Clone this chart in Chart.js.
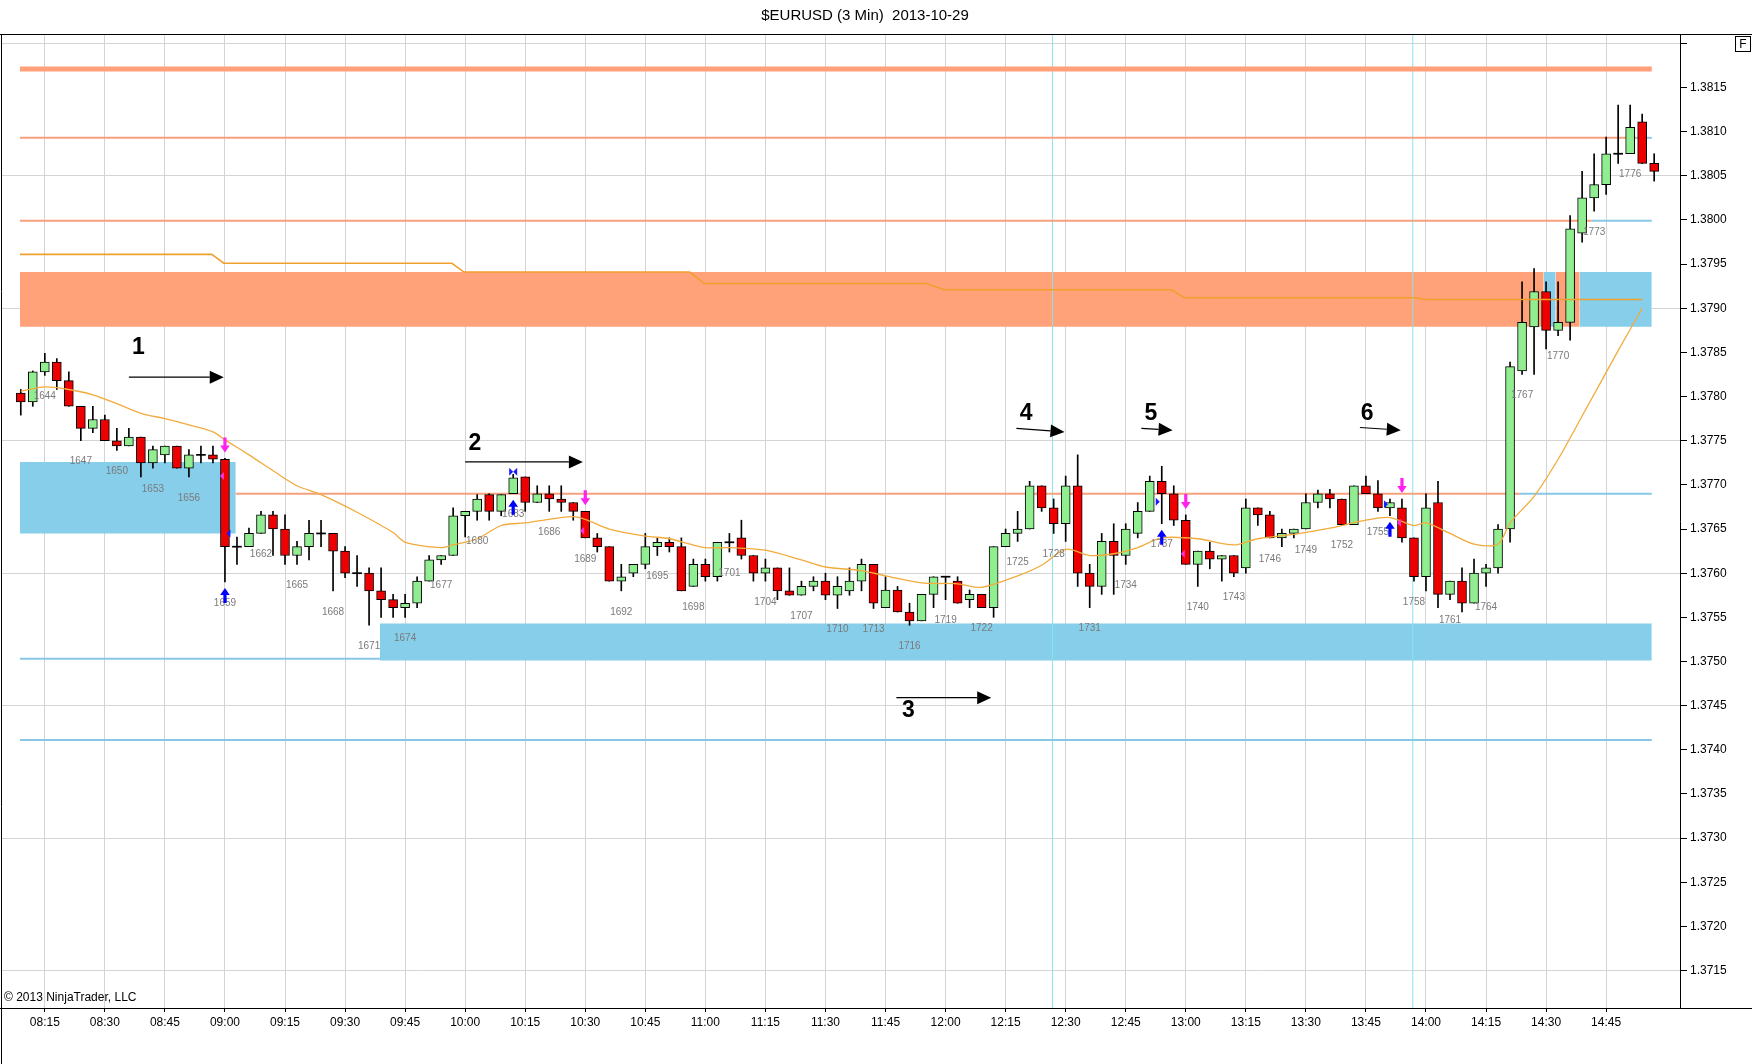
<!DOCTYPE html>
<html>
<head>
<meta charset="utf-8">
<title>$EURUSD (3 Min) 2013-10-29</title>
<script src="https://cdn.jsdelivr.net/npm/chart.js@4.4.1/dist/chart.umd.min.js"></script>
<style>
  html, body { margin: 0; padding: 0; background: #fff; }
</style>
</head>
<body>
<canvas id="chart" width="1752" height="1064"></canvas>
<script>
  "use strict";

  // bar index 0 = 08:15 (bar #1644), one bar = 3 minutes
  const firstBar = -2;
  const barNoStart = 1644;

  const opens = [
    1.37804, 1.37794, 1.37828, 1.37839, 1.37818, 1.37789, 1.37764, 1.37774, 1.37750, 1.37744,
    1.37754, 1.37725, 1.37734, 1.37744, 1.37719, 1.37734, 1.37734, 1.37729, 1.37630, 1.37630,
    1.37645, 1.37666, 1.37650, 1.37620, 1.37630, 1.37645, 1.37645, 1.37625, 1.37600, 1.37600,
    1.37580, 1.37570, 1.37561, 1.37566, 1.37591, 1.37615, 1.37620, 1.37665, 1.37670, 1.37689,
    1.37670, 1.37690, 1.37709, 1.37680, 1.37690, 1.37684, 1.37680, 1.37670, 1.37640, 1.37630,
    1.37591, 1.37600, 1.37610, 1.37630, 1.37635, 1.37630, 1.37585, 1.37610, 1.37596, 1.37635,
    1.37640, 1.37620, 1.37600, 1.37606, 1.37580, 1.37575, 1.37585, 1.37591, 1.37575, 1.37580,
    1.37591, 1.37610, 1.37561, 1.37581, 1.37556, 1.37546, 1.37576, 1.37596, 1.37591, 1.37570,
    1.37576, 1.37561, 1.37630, 1.37645, 1.37650, 1.37699, 1.37674, 1.37656, 1.37699, 1.37600,
    1.37585, 1.37636, 1.37620, 1.37645, 1.37670, 1.37704, 1.37690, 1.37660, 1.37610, 1.37625,
    1.37616, 1.37620, 1.37606, 1.37674, 1.37666, 1.37640, 1.37645, 1.37650, 1.37680, 1.37690,
    1.37684, 1.37655, 1.37699, 1.37690, 1.37674, 1.37674, 1.37640, 1.37596, 1.37680, 1.37576,
    1.37591, 1.37566, 1.37600, 1.37606, 1.37650, 1.37829, 1.37879, 1.37919, 1.37875, 1.37884,
    1.37985, 1.38025, 1.38040, 1.38075, 1.38075, 1.38111, 1.38064
  ];
  const highs = [
    1.37808, 1.37829, 1.37849, 1.37843, 1.37828, 1.37789, 1.37789, 1.37779, 1.37764, 1.37764,
    1.37754, 1.37744, 1.37744, 1.37744, 1.37740, 1.37744, 1.37744, 1.37730, 1.37641, 1.37651,
    1.37670, 1.37670, 1.37666, 1.37636, 1.37660, 1.37660, 1.37645, 1.37630, 1.37620, 1.37606,
    1.37606, 1.37576, 1.37576, 1.37596, 1.37620, 1.37620, 1.37674, 1.37670, 1.37689, 1.37690,
    1.37689, 1.37712, 1.37709, 1.37699, 1.37699, 1.37699, 1.37680, 1.37670, 1.37645, 1.37630,
    1.37610, 1.37610, 1.37645, 1.37640, 1.37640, 1.37640, 1.37616, 1.37616, 1.37635, 1.37645,
    1.37660, 1.37620, 1.37616, 1.37606, 1.37606, 1.37591, 1.37596, 1.37600, 1.37596, 1.37606,
    1.37616, 1.37610, 1.37596, 1.37585, 1.37566, 1.37576, 1.37596, 1.37596, 1.37596, 1.37581,
    1.37576, 1.37630, 1.37650, 1.37670, 1.37704, 1.37699, 1.37684, 1.37710, 1.37734, 1.37610,
    1.37645, 1.37656, 1.37656, 1.37680, 1.37710, 1.37721, 1.37699, 1.37666, 1.37625, 1.37635,
    1.37620, 1.37620, 1.37684, 1.37674, 1.37670, 1.37650, 1.37650, 1.37690, 1.37694, 1.37695,
    1.37684, 1.37699, 1.37710, 1.37705, 1.37684, 1.37684, 1.37640, 1.37690, 1.37704, 1.37591,
    1.37606, 1.37616, 1.37610, 1.37655, 1.37839, 1.37930, 1.37945, 1.37930, 1.37930, 1.38005,
    1.38055, 1.38075, 1.38094, 1.38130, 1.38130, 1.38120, 1.38075
  ];
  const lows = [
    1.37779, 1.37789, 1.37824, 1.37808, 1.37789, 1.37750, 1.37759, 1.37750, 1.37739, 1.37744,
    1.37709, 1.37719, 1.37725, 1.37719, 1.37709, 1.37725, 1.37725, 1.37590, 1.37610, 1.37630,
    1.37645, 1.37620, 1.37610, 1.37610, 1.37615, 1.37630, 1.37580, 1.37595, 1.37585, 1.37541,
    1.37550, 1.37550, 1.37550, 1.37561, 1.37591, 1.37610, 1.37620, 1.37641, 1.37660, 1.37660,
    1.37665, 1.37690, 1.37670, 1.37680, 1.37670, 1.37670, 1.37660, 1.37640, 1.37624, 1.37591,
    1.37580, 1.37596, 1.37605, 1.37620, 1.37624, 1.37580, 1.37585, 1.37591, 1.37591, 1.37624,
    1.37616, 1.37591, 1.37591, 1.37570, 1.37575, 1.37575, 1.37580, 1.37570, 1.37560, 1.37575,
    1.37580, 1.37560, 1.37561, 1.37556, 1.37541, 1.37546, 1.37561, 1.37570, 1.37566, 1.37561,
    1.37561, 1.37550, 1.37630, 1.37636, 1.37650, 1.37670, 1.37645, 1.37636, 1.37585, 1.37561,
    1.37576, 1.37576, 1.37610, 1.37640, 1.37670, 1.37656, 1.37654, 1.37610, 1.37585, 1.37605,
    1.37591, 1.37596, 1.37600, 1.37654, 1.37640, 1.37630, 1.37640, 1.37650, 1.37674, 1.37674,
    1.37655, 1.37655, 1.37690, 1.37670, 1.37665, 1.37635, 1.37591, 1.37580, 1.37561, 1.37570,
    1.37556, 1.37566, 1.37585, 1.37600, 1.37635, 1.37825, 1.37825, 1.37854, 1.37869, 1.37864,
    1.37975, 1.38010, 1.38029, 1.38064, 1.38075, 1.38064, 1.38044
  ];
  const closes = [
    1.37794, 1.37828, 1.37839, 1.37818, 1.37789, 1.37764, 1.37774, 1.37750, 1.37744, 1.37754,
    1.37725, 1.37740, 1.37744, 1.37719, 1.37734, 1.37734, 1.37729, 1.37630, 1.37630, 1.37645,
    1.37666, 1.37650, 1.37620, 1.37630, 1.37645, 1.37645, 1.37625, 1.37600, 1.37600, 1.37580,
    1.37570, 1.37561, 1.37566, 1.37591, 1.37615, 1.37620, 1.37665, 1.37670, 1.37684, 1.37670,
    1.37689, 1.37708, 1.37680, 1.37690, 1.37684, 1.37680, 1.37670, 1.37640, 1.37630, 1.37591,
    1.37596, 1.37610, 1.37630, 1.37635, 1.37630, 1.37580, 1.37610, 1.37596, 1.37635, 1.37635,
    1.37620, 1.37600, 1.37606, 1.37580, 1.37575, 1.37585, 1.37591, 1.37575, 1.37585, 1.37591,
    1.37610, 1.37566, 1.37581, 1.37556, 1.37546, 1.37576, 1.37596, 1.37596, 1.37566, 1.37576,
    1.37561, 1.37630, 1.37645, 1.37650, 1.37699, 1.37674, 1.37656, 1.37699, 1.37600, 1.37585,
    1.37636, 1.37620, 1.37650, 1.37670, 1.37704, 1.37690, 1.37660, 1.37610, 1.37625, 1.37616,
    1.37620, 1.37600, 1.37674, 1.37666, 1.37640, 1.37645, 1.37650, 1.37680, 1.37690, 1.37684,
    1.37655, 1.37699, 1.37690, 1.37674, 1.37680, 1.37640, 1.37596, 1.37674, 1.37576, 1.37591,
    1.37566, 1.37600, 1.37606, 1.37650, 1.37834, 1.37884, 1.37919, 1.37875, 1.37884, 1.37990,
    1.38025, 1.38040, 1.38075, 1.38075, 1.38105, 1.38064, 1.38055
  ];

  // moving average (thin gold line), read at these bar indexes
  const maX = [-2, 0, 2, 4, 6, 8, 10, 12, 14, 15, 17, 19, 21, 23, 26, 29, 30, 33, 34, 36,
    38, 40, 43, 44, 45, 47, 50, 52, 55, 57, 60, 63, 65, 68, 70, 73, 76, 78, 81, 83,
    85, 87, 89, 91, 93, 96, 99, 101, 104, 107, 110, 112, 114, 115, 117, 119, 121, 122, 124, 126,
    128, 131, 133];
  const maY = [1.37806, 1.37811, 1.37808, 1.37802, 1.37792, 1.37781, 1.37775, 1.37768, 1.37760, 1.37751,
    1.37734, 1.37716, 1.37699, 1.37689, 1.37669, 1.37646, 1.37635, 1.37629, 1.37632, 1.37639,
    1.37654, 1.37657, 1.37663, 1.37664, 1.37661, 1.37650, 1.37642, 1.37639, 1.37629, 1.37629,
    1.37626, 1.37615, 1.37607, 1.37603, 1.37597, 1.37589, 1.37588, 1.37584, 1.37597, 1.37609,
    1.37627, 1.37620, 1.37622, 1.37629, 1.37640, 1.37639, 1.37632, 1.37639, 1.37644, 1.37651,
    1.37660, 1.37663, 1.37654, 1.37657, 1.37645, 1.37633, 1.37633, 1.37657, 1.37687, 1.37729,
    1.37778, 1.37852, 1.37900];

  // stepped orange line
  const stepX = [-2.07, 13.9, 14.9, 33.9, 34.9, 53.7, 54.9, 73.4, 74.9, 93.8, 94.9, 114, 115, 133];
  const stepY = [1.37961, 1.37961, 1.37951, 1.37951, 1.37941, 1.37941, 1.37928, 1.37928,
    1.37921, 1.37921, 1.37912, 1.37912, 1.37910, 1.37910];

  // zones: start bar, end bar, low, high
  const zoneStart = [-2.07, -2.07, 125.8, 124.8, 127.8, 27.9];
  const zoneEnd = [15.9, 124.8, 127.8, 125.8, 133.8, 133.8];
  const zoneLow = [1.37645, 1.37879, 1.37879, 1.37879, 1.37879, 1.37501];
  const zoneHigh = [1.37726, 1.37941, 1.37941, 1.37941, 1.37941, 1.37543];
  const zoneKind = ["blue", "orange", "orange", "blue", "blue", "blue"];

  // horizontal levels: start bar, end bar, price
  const levelStart = [-2.07, -2.07, 132.5, -2.07, 128.8, 15.9, 122.8, -2.07, -2.07];
  const levelEnd = [133.8, 132.5, 133.8, 128.8, 133.8, 122.8, 133.8, 27.9, 133.8];
  const levelPrice = [1.38171, 1.38093, 1.38093, 1.37999, 1.37999, 1.37690, 1.37690, 1.37503, 1.37411];
  const levelKind = ["orangeWide", "orange", "blue", "orange", "blue", "orange", "blue", "blue", "blue"];

  const vlineX = [83.9, 113.9];

  // signal markers (bar indexes)
  const sellBars = [15, 45, 95, 113];
  const buyBars = [15, 39, 93, 112];
  const pinkMarkBars = [15, 45, 95, 113];
  const pinkMarkPrices = [1.37710, 1.37648, 1.37622, 1.37657];

  // numbered annotations with arrows
  const noteText = ["1", "2", "3", "4", "5", "6"];
  const noteX = [7.8, 35.8, 71.9, 81.7, 92.1, 110.1];
  const noteY = [1.37855, 1.37747, 1.37444, 1.37781, 1.37781, 1.37781];
  const arrowX0 = [7.0, 35.0, 70.9, 80.9, 91.3, 109.5];
  const arrowX1 = [14.9, 44.8, 78.8, 84.9, 93.9, 112.9];
  const arrowY0 = [1.37822, 1.37726, 1.37459, 1.37764, 1.37764, 1.37765];
  const arrowY1 = [1.37822, 1.37726, 1.37459, 1.37760, 1.37762, 1.37762];

  const timeTicks = [0, 5, 10, 15, 20, 25, 30, 35, 40, 45, 50, 55, 60, 65, 70, 75, 80, 85, 90, 95,
    100, 105, 110, 115, 120, 125, 130];
  const timeLabels = ["08:15", "08:30", "08:45", "09:00", "09:15", "09:30", "09:45", "10:00",
    "10:15", "10:30", "10:45", "11:00", "11:15", "11:30", "11:45", "12:00", "12:15", "12:30",
    "12:45", "13:00", "13:15", "13:30", "13:45", "14:00", "14:15", "14:30", "14:45"];
  const priceTicks = [1.3715, 1.3720, 1.3725, 1.3730, 1.3735, 1.3740, 1.3745, 1.3750, 1.3755,
    1.3760, 1.3765, 1.3770, 1.3775, 1.3780, 1.3785, 1.3790, 1.3795, 1.3800, 1.3805, 1.3810,
    1.3815, 1.3820];

  const FONT = '"Liberation Sans", Arial, sans-serif';
  const UP = "#90ee90";
  const DOWN = "#ee0000";
  const SALMON = "#ffa27a";
  const SKY = "#87ceeb";
  const zoneColors = { blue: SKY, orange: SALMON };
  const levelStyles = {
    orangeWide: { color: "#ffa07a", width: 5 },
    orange: { color: "#f6a07c", width: 2 },
    blue: { color: "#88c8e6", width: 2 },
  };

  const xMin = -3.564, xMax = 136.15;
  const yMin = 1.371076, yMax = 1.382106;

  // ---- datasets
  const datasets = [];

  zoneStart.forEach((s, k) => {
    datasets.push({
      type: "line",
      data: [{ x: s, y: zoneHigh[k] }, { x: zoneEnd[k], y: zoneHigh[k] }],
      fill: { value: zoneLow[k] },
      backgroundColor: zoneColors[zoneKind[k]],
      borderWidth: 0,
      pointRadius: 0,
      order: 10,
    });
  });

  levelStart.forEach((s, k) => {
    const st = levelStyles[levelKind[k]];
    datasets.push({
      type: "line",
      data: [{ x: s, y: levelPrice[k] }, { x: levelEnd[k], y: levelPrice[k] }],
      borderColor: st.color,
      borderWidth: st.width,
      pointRadius: 0,
      fill: false,
      order: 9,
    });
  });

  vlineX.forEach((v) => {
    datasets.push({
      type: "line",
      data: [{ x: v, y: yMin }, { x: v, y: yMax }],
      borderColor: "#86e4ec",
      borderWidth: 1,
      pointRadius: 0,
      order: 9,
    });
  });

  const barIdx = opens.map((_, k) => firstBar + k);
  const dojiHalf = 0.000006;

  datasets.push({
    type: "bar",
    data: barIdx.map((i, k) => ({ x: i, y: [lows[k], highs[k]] })),
    backgroundColor: "#000",
    barThickness: 1,
    grouped: false,
    order: 6,
  });

  datasets.push({
    type: "bar",
    data: barIdx.map((i, k) => {
      const o = opens[k], c = closes[k];
      if (o === c) return { x: i, y: [o - dojiHalf, o + dojiHalf] };
      return { x: i, y: [Math.min(o, c), Math.max(o, c)] };
    }),
    backgroundColor: barIdx.map((i, k) =>
      closes[k] > opens[k] ? UP : closes[k] < opens[k] ? DOWN : "#000"),
    borderColor: "#000",
    borderWidth: barIdx.map((i, k) => (closes[k] === opens[k] ? 0 : 1)),
    borderSkipped: false,
    barThickness: 9,
    grouped: false,
    order: 5,
  });

  datasets.push({
    type: "line",
    data: stepX.map((x, k) => ({ x: x, y: stepY[k] })),
    borderColor: "#f0a02c",
    borderWidth: 1.6,
    pointRadius: 0,
    tension: 0,
    order: 3,
  });

  datasets.push({
    type: "line",
    data: maX.map((x, k) => ({ x: x, y: maY[k] })),
    borderColor: "#f2ab3c",
    borderWidth: 1.3,
    pointRadius: 0,
    tension: 0.3,
    order: 2,
  });

  // ---- helpers for the overlay
  function vArrow(ctx, cx, tail, tip, color) {
    const dir = tip > tail ? 1 : -1;
    const head = 7;
    ctx.fillStyle = color;
    ctx.beginPath();
    ctx.moveTo(cx - 1.6, tail);
    ctx.lineTo(cx + 1.6, tail);
    ctx.lineTo(cx + 1.6, tip - dir * head);
    ctx.lineTo(cx + 4.8, tip - dir * head);
    ctx.lineTo(cx, tip);
    ctx.lineTo(cx - 4.8, tip - dir * head);
    ctx.lineTo(cx - 1.6, tip - dir * head);
    ctx.closePath();
    ctx.fill();
  }

  function tri(ctx, tipX, tipY, dx, h, color) {
    ctx.fillStyle = color;
    ctx.beginPath();
    ctx.moveTo(tipX, tipY);
    ctx.lineTo(tipX + dx, tipY - h);
    ctx.lineTo(tipX + dx, tipY + h);
    ctx.closePath();
    ctx.fill();
  }

  const overlay = {
    id: "overlay",
    afterDatasetsDraw(chart) {
      const { ctx, chartArea: a } = chart;
      const x = chart.scales.x, y = chart.scales.y;
      const px = (v) => x.getPixelForValue(v);
      const py = (v) => y.getPixelForValue(v);
      const k0 = (i) => i - firstBar;

      ctx.save();
      ctx.beginPath();
      ctx.rect(a.left, a.top, a.right - a.left, a.bottom - a.top);
      ctx.clip();

      // bar numbers every 3 bars
      ctx.font = "10px " + FONT;
      ctx.fillStyle = "#7a7a7a";
      ctx.textAlign = "center";
      ctx.textBaseline = "middle";
      barIdx.forEach((i, k) => {
        if (i < 0 || i % 3 !== 0) return;
        ctx.fillText(String(barNoStart + i), px(i), py(lows[k]) + 21);
      });

      // pink side marks
      pinkMarkBars.forEach((i, n) => {
        tri(ctx, px(i) - 5, py(pinkMarkPrices[n]), 4, 4, "#ff33dd");
      });
      // blue side marks
      tri(ctx, px(15) + 1.5, py(1.37645), 4, 4, "#1a1aff");
      tri(ctx, px(93) - 2, py(1.37681), -4, 4, "#1a1aff");
      tri(ctx, px(112) - 2, py(1.37678), -4, 4, "#1a1aff");
      // bow tie on bar 39
      tri(ctx, px(39), py(1.37715), -4, 4, "#1a1aff");
      tri(ctx, px(39), py(1.37715), 4, 4, "#1a1aff");

      sellBars.forEach((i) => {
        const hy = py(highs[k0(i)]);
        vArrow(ctx, px(i), hy - 21, hy - 6, "#ff22ee");
      });
      buyBars.forEach((i) => {
        const ly = py(lows[k0(i)]);
        vArrow(ctx, px(i), ly + 21, ly + 6, "#0000ff");
      });

      // numbered arrows
      ctx.strokeStyle = "#000";
      ctx.fillStyle = "#000";
      ctx.lineWidth = 1.2;
      noteText.forEach((t, n) => {
        const x0 = px(arrowX0[n]), x1 = px(arrowX1[n]);
        const y0 = py(arrowY0[n]), y1 = py(arrowY1[n]);
        const ang = Math.atan2(y1 - y0, x1 - x0);
        const hl = 14, hw = 6.5;
        const bx = x1 - hl * Math.cos(ang), by = y1 - hl * Math.sin(ang);
        ctx.beginPath();
        ctx.moveTo(x0, y0);
        ctx.lineTo(bx, by);
        ctx.stroke();
        ctx.beginPath();
        ctx.moveTo(x1, y1);
        ctx.lineTo(bx + hw * Math.sin(ang), by - hw * Math.cos(ang));
        ctx.lineTo(bx - hw * Math.sin(ang), by + hw * Math.cos(ang));
        ctx.closePath();
        ctx.fill();
      });
      ctx.font = "bold 23px " + FONT;
      ctx.textAlign = "center";
      ctx.textBaseline = "middle";
      noteText.forEach((t, n) => {
        ctx.fillText(t, px(noteX[n]), py(noteY[n]));
      });

      // copyright
      ctx.font = "12px " + FONT;
      ctx.textAlign = "left";
      ctx.fillStyle = "#000";
      ctx.fillText("\u00a9 2013 NinjaTrader, LLC", a.left + 2, a.bottom - 10);
      ctx.restore();

      // frame, title, F box
      ctx.save();
      ctx.strokeStyle = "#000";
      ctx.lineWidth = 1;
      ctx.beginPath();
      ctx.moveTo(0, a.top + 0.5);
      ctx.lineTo(chart.width, a.top + 0.5);
      ctx.moveTo(0, a.bottom + 0.5);
      ctx.lineTo(chart.width, a.bottom + 0.5);
      ctx.moveTo(1.5, a.top);
      ctx.lineTo(1.5, chart.height);
      ctx.stroke();
      ctx.strokeRect(1735.5, 36.5, 15, 15);
      ctx.font = "12px " + FONT;
      ctx.fillStyle = "#000";
      ctx.textAlign = "center";
      ctx.textBaseline = "middle";
      ctx.fillText("F", 1743, 44.5);
      ctx.font = "15px " + FONT;
      ctx.fillText("$EURUSD (3 Min)  2013-10-29", 865, 16);
      ctx.restore();
    },
  };

  const gridEvery = (v) => Math.round((v - 1.3715) / 0.0005) % 3 === 0;

  new Chart(document.getElementById("chart"), {
    type: "bar",
    data: { datasets: datasets },
    options: {
      responsive: false,
      animation: false,
      events: [],
      layout: { padding: { top: 34, left: 2, right: 0, bottom: 0 } },
      plugins: {
        legend: { display: false },
        tooltip: { enabled: false },
      },
      scales: {
        x: {
          type: "linear",
          min: xMin,
          max: xMax,
          offset: false,
          bounds: "data",
          afterBuildTicks: (s) => {
            s.ticks = timeTicks.map((v) => ({ value: v }));
          },
          afterFit: (s) => {
            s.height = 56;
          },
          ticks: {
            autoSkip: false,
            maxRotation: 0,
            padding: 3,
            color: "#000",
            font: { family: FONT, size: 12 },
            callback: (v) => timeLabels[timeTicks.indexOf(v)],
          },
          grid: { color: "#d4d4d4", tickColor: "#000", tickLength: 4, offset: false },
          border: { color: "#000" },
        },
        y: {
          type: "linear",
          position: "right",
          min: yMin,
          max: yMax,
          bounds: "data",
          afterBuildTicks: (s) => {
            s.ticks = priceTicks.map((v) => ({ value: v }));
          },
          afterFit: (s) => {
            s.width = 72;
          },
          ticks: {
            autoSkip: false,
            padding: 3,
            color: "#000",
            font: { family: FONT, size: 12 },
            callback: (v) => (v > 1.38195 ? "" : v.toFixed(4)),
          },
          grid: {
            color: (c) => (c.tick && gridEvery(c.tick.value) ? "#d4d4d4" : "rgba(0,0,0,0)"),
            tickColor: "#000",
            tickLength: 7,
          },
          border: { color: "#000" },
        },
      },
    },
    plugins: [overlay],
  });
</script>
</body>
</html>
